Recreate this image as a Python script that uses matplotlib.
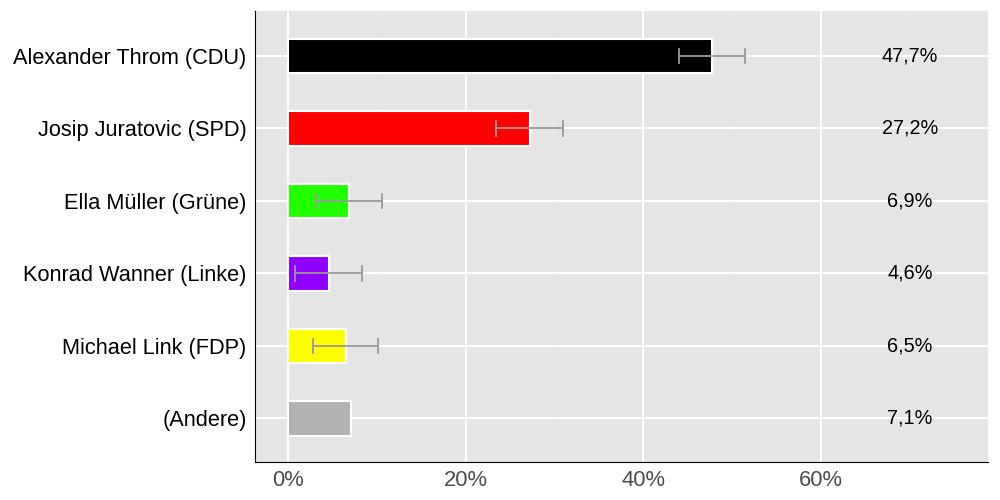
import matplotlib.pyplot as plt
import numpy as np

# candidates and poll values (%)
candidates = ['Alexander Throm (CDU)', 'Josip Juratovic (SPD)', 'Ella Müller (Grüne)',
              'Konrad Wanner (Linke)', 'Michael Link (FDP)', '(Andere)']
values = [47.7, 27.2, 6.9, 4.6, 6.5, 7.1]
err_low = [44.0, 23.4, 3.2, 0.8, 2.8, None]
err_high = [51.5, 31.0, 10.6, 8.3, 10.2, None]
labels = ['47,7%', '27,2%', '6,9%', '4,6%', '6,5%', '7,1%']
colors = ['#000000', '#ff0000', '#22ff00', '#8f00ff', '#ffff00', '#b2b2b2']

plt.rcParams['font.family'] = ['Liberation Sans', 'DejaVu Sans']

fig = plt.figure(figsize=(10, 5), dpi=100)
ax = fig.add_axes([0.255, 0.076, 0.733, 0.902])
ax.set_facecolor('#e5e5e5')

y = np.arange(len(candidates))
ax.barh(y, values, height=0.47, color=colors, edgecolor='white', linewidth=1.5, zorder=3)

for i in range(len(candidates)):
    if err_low[i] is not None:
        ax.plot([err_low[i], err_high[i]], [y[i], y[i]], color='#999999', lw=1.3, zorder=4)
        for x in (err_low[i], err_high[i]):
            ax.plot([x, x], [y[i] - 0.1, y[i] + 0.1], color='#999999', lw=1.3, zorder=4)
    ax.text(70, y[i], labels[i], ha='center', va='center', fontsize=14.3, color='black', zorder=5)

ax.set_xlim(-3.7, 78.8)
ax.set_ylim(len(candidates) - 0.4, -0.62)
ax.set_yticks(y)
ax.set_yticklabels(candidates, fontsize=15.7)
ax.set_xticks([0, 20, 40, 60])
ax.set_xticklabels(['0%', '20%', '40%', '60%'], fontsize=15.8, color='#4d4d4d')
ax.set_xticks([10, 30, 50, 70], minor=True)

ax.grid(True, which='major', color='white', lw=1.4, zorder=0)
ax.grid(True, which='minor', axis='x', color='#e9e9e9', lw=0.8, zorder=0)
ax.set_axisbelow(True)
ax.tick_params(length=0, which='both', pad=6)

for s in ['top', 'right']:
    ax.spines[s].set_visible(False)
ax.spines['left'].set_color('black')
ax.spines['bottom'].set_color('black')

fig.savefig('out.png', dpi=100)
